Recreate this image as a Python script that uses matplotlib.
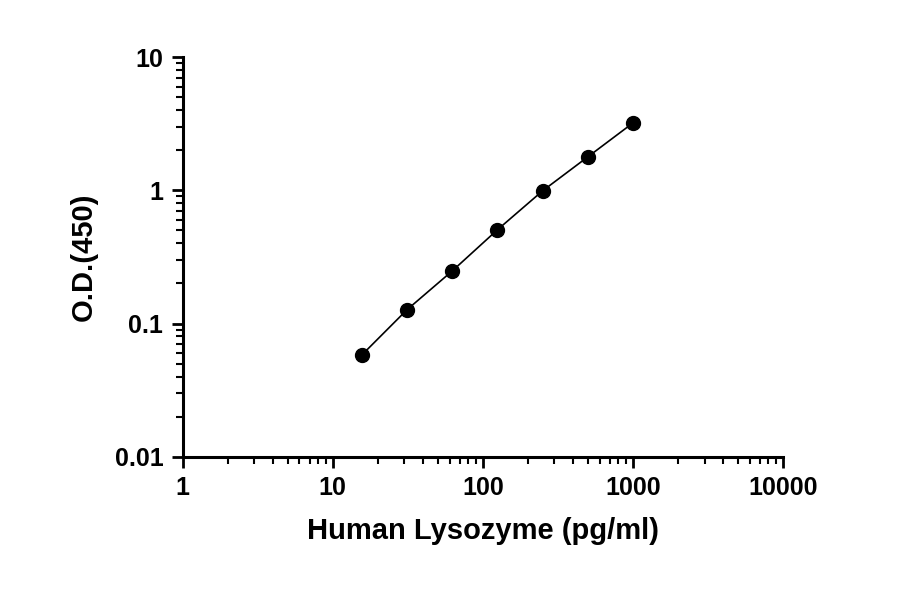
import matplotlib
matplotlib.use("Agg")
import matplotlib.pyplot as plt
from matplotlib.ticker import LogLocator, FixedLocator, FixedFormatter

plt.rcParams['font.family'] = ['Liberation Sans', 'DejaVu Sans']
plt.rcParams['font.weight'] = 'bold'

conc = [15.6, 31.25, 62.5, 125, 250, 500, 1000]
od = [0.058, 0.127, 0.248, 0.505, 0.99, 1.78, 3.2]
xticks = [1, 10, 100, 1000, 10000]
xlabels = ['1', '10', '100', '1000', '10000']
yticks = [0.01, 0.1, 1, 10]
ylabels = ['0.01', '0.1', '1', '10']

fig = plt.figure(figsize=(9, 5.94), dpi=100)
ax = fig.add_axes([0.203, 0.231, 0.667, 0.673])
ax.plot(conc, od, color='black', lw=1.2, marker='o', ms=10)
ax.set_xscale('log')
ax.set_yscale('log')
ax.set_xlim(1, 10000)
ax.set_ylim(0.01, 10)
ax.xaxis.set_major_locator(FixedLocator(xticks))
ax.xaxis.set_major_formatter(FixedFormatter(xlabels))
ax.yaxis.set_major_locator(FixedLocator(yticks))
ax.yaxis.set_major_formatter(FixedFormatter(ylabels))
ax.xaxis.set_minor_locator(LogLocator(base=10, subs=range(2, 10)))
ax.yaxis.set_minor_locator(LogLocator(base=10, subs=range(2, 10)))
for s in ['top', 'right']:
    ax.spines[s].set_visible(False)
for s in ['left', 'bottom']:
    ax.spines[s].set_linewidth(2.2)
ax.tick_params(which='major', length=8, width=2, labelsize=18, pad=6)
ax.tick_params(which='minor', length=5, width=1.5)
for lbl in ax.get_xticklabels() + ax.get_yticklabels():
    lbl.set_fontweight('bold')
ax.set_xlabel('Human Lysozyme (pg/ml)', fontsize=21, fontweight='bold', labelpad=12)
ax.set_ylabel('O.D.(450)', fontsize=21, fontweight='bold', labelpad=12)
fig.savefig('out.png', dpi=100)
